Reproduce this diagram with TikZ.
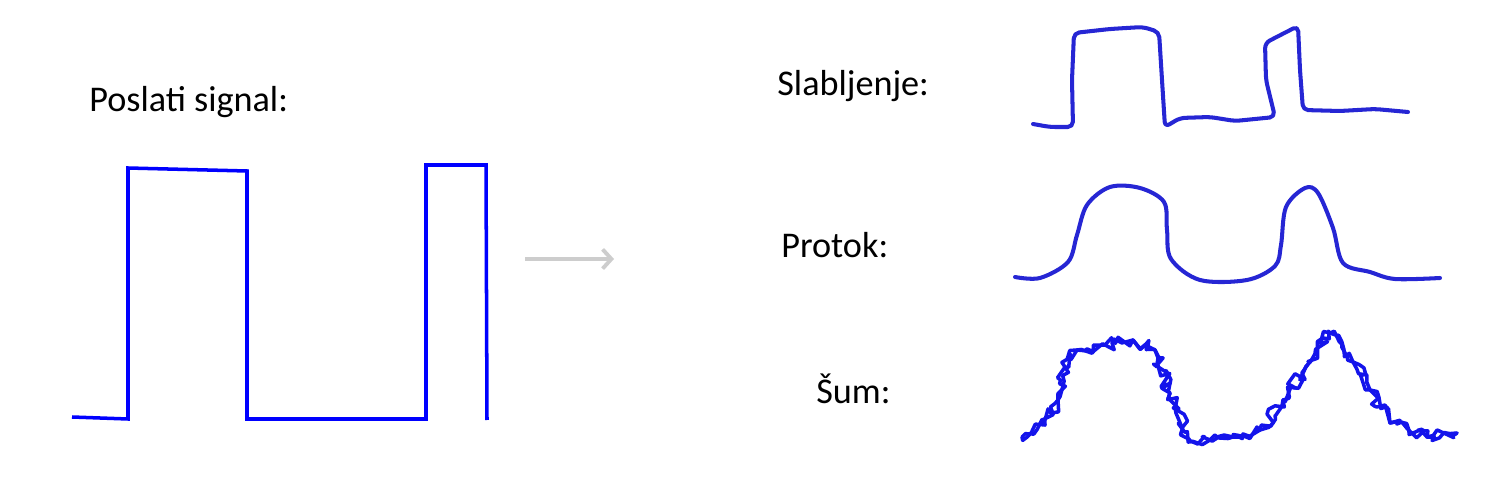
\documentclass[tikz,border=0pt]{standalone}
\usepackage{fontspec}
\setmainfont{Carlito}
\usetikzlibrary{arrows.meta,decorations.pathmorphing}
\definecolor{penblue}{RGB}{38,38,212}
\definecolor{noiseblue}{RGB}{20,20,235}
\definecolor{arrowgray}{RGB}{205,205,205}
\tikzstyle{signame} = [
  anchor=base west,
  inner sep=0pt,
  font=\fontsize{20.6}{24}\selectfont,
]
\tikzstyle{sent} = [
  draw=blue,
  line width=2pt,
]
\tikzstyle{sketch} = [
  draw=penblue,
  line width=2.3pt,
  line cap=round,
  line join=round,
]
\tikzstyle{noisy} = [
  sketch,
  draw=noiseblue,
  line width=2pt,
  decorate,
  decoration={random steps, segment length=3pt, amplitude=3.6pt},
]

\begin{document}
\begin{tikzpicture}[
    x=0.02cm,
    y=-0.02cm,
  ]
  \useasboundingbox (0,0) rectangle (1495,503);
  % texts
  \node[signame] (poslati) at (89,112) {Poslati signal:};
  \node[signame] (slab) at (777,96) {Slabljenje:};
  \node[signame] (protok) at (781,258) {Protok:};
  \node[signame] (sum) at (816,403) {Šum:};
  % sent signal
  \draw[sent] (72,417) -- (128,419) -- (128,168) -- (247,171) -- (247,419)
    -- (426,419) -- (426,165) -- (486,165) -- (487,420);
  % arrow
  \coordinate (arrS) at (525,259);
  \coordinate (arrE) at (614,259);
  \draw[
    arrowgray,
    line width=2.2pt,
    -{Straight Barb[length=5pt,width=11pt]},
  ] (arrS) -- (arrE);
  % attenuated
  \draw[sketch, rounded corners=3pt] (1033,124) -- (1050,127) -- (1073,127)
    -- (1072,80) -- (1074,33) -- (1110,29) -- (1143,27) -- (1159,32)
    -- (1162,80) -- (1165,127) -- (1180,118) -- (1210,117) -- (1235,121)
    -- (1275,117) -- (1266,80) -- (1265,43) -- (1298,26) -- (1300,70)
    -- (1303,110) -- (1340,111) -- (1375,109) -- (1408,112);
  % spread
  \draw[sketch] plot[smooth, tension=0.55] coordinates {
    (1015,277) (1040,278) (1068,262) (1077,235) (1087,205) (1110,187)
    (1140,188) (1164,202) (1167,230) (1171,259) (1200,280) (1247,280)
    (1275,266) (1281,245) (1286,207) (1305,188) (1318,193) (1333,228)
    (1343,263) (1370,272) (1395,279) (1440,278)
  };
  % noise
  \foreach \seed in {7,23} {
    \pgfmathsetseed{\seed}
    \draw[noisy] (1022,437) -- (1045,425) -- (1058,400) -- (1065,367)
      -- (1077,350) -- (1105,345) -- (1133,340) -- (1155,350) -- (1170,393)
      -- (1188,440) -- (1210,440) -- (1233,437) -- (1260,430) -- (1283,400)
      -- (1310,362) -- (1330,333) -- (1353,362) -- (1370,390) -- (1390,423)
      -- (1427,437) -- (1457,433);
  }
\end{tikzpicture}
\end{document}
